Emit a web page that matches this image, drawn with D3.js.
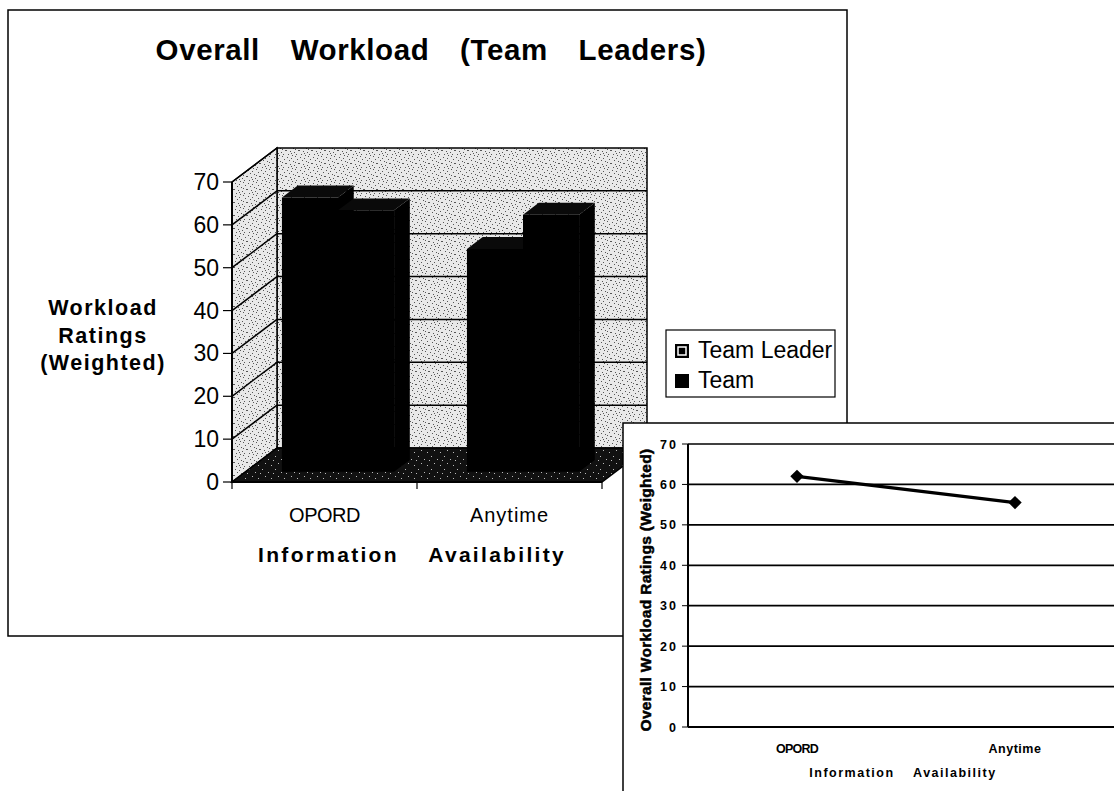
<!DOCTYPE html>
<html>
<head>
<meta charset="utf-8">
<script src="https://cdn.jsdelivr.net/npm/d3@7"></script>
<style>
body { margin: 0; background: #fff; }
text { font-family: "Liberation Sans", Arial, sans-serif; fill: #000; }
</style>
</head>
<body>
<div id="graphicContainer"></div>
<script>
// values
var categories = ["OPORD", "Anytime"]
var seriesNames = ["Team Leader", "Team"]
var teamLeader = [64, 52]
var team = [61, 60]
var overall = [62, 55.5]
var yTicks = [0, 10, 20, 30, 40, 50, 60, 70]
var chartTitle = "Overall Workload (Team Leaders)"
var xTitle = "Information Availability"
var yTitleLines = ["Workload", "Ratings", "(Weighted)"]
var insetYTitle = "Overall Workload Ratings (Weighted)"

var width = 1114, height = 791
var svg = d3.select("#graphicContainer").append("svg")
	.attr("width", width)
	.attr("height", height)

var defs = svg.append("defs")

// stipple texture for walls (fixed dot spots in a tile)
var wallDots = [[1,1],[5,2],[9,0],[3,4],[7,5],[11,3],[0,7],[4,8],[8,9],[12,7],[2,11],[6,12],[10,11],[9,6],[5,10]]
var wall = defs.append("pattern").attr("id", "wall")
	.attr("width", 13).attr("height", 13).attr("patternUnits", "userSpaceOnUse")
wall.append("rect").attr("width", 13).attr("height", 13).attr("fill", "#e8e8e8")
wall.selectAll("rect.d").data(wallDots).join("rect").attr("class", "d")
	.attr("x", d => d[0]).attr("y", d => d[1]).attr("width", 1).attr("height", 1).attr("fill", "#555")

var floorDots = [[2,1],[8,4],[5,8],[11,10],[0,5]]
var floor = defs.append("pattern").attr("id", "floor")
	.attr("width", 13).attr("height", 13).attr("patternUnits", "userSpaceOnUse")
floor.append("rect").attr("width", 13).attr("height", 13).attr("fill", "#111")
floor.selectAll("rect.d").data(floorDots).join("rect").attr("class", "d")
	.attr("x", d => d[0]).attr("y", d => d[1]).attr("width", 1).attr("height", 1).attr("fill", "#bbb")

// outer frame of the main chart
svg.append("rect")
	.attr("x", 8).attr("y", 10).attr("width", 839).attr("height", 626)
	.attr("fill", "#fff").attr("stroke", "#000").attr("stroke-width", 1.5)

svg.append("text")
	.attr("x", 431).attr("y", 60)
	.attr("text-anchor", "middle")
	.attr("font-size", 29.5).attr("font-weight", "bold")
	.attr("letter-spacing", 0.6).attr("word-spacing", 22)
	.text(chartTitle)

// ---- 3D column chart ----
var depth = {dx: 45, dy: -34}
var fFront = 0.3, fBack = 0.65

var y = d3.scaleLinear().domain([0, 70]).range([482, 182])
var x0 = d3.scaleBand().domain(categories).range([232, 602])
var x1 = d3.scaleBand().domain(seriesNames).range([0, x0.bandwidth()]).paddingOuter(0.65)

function pt(x, yy, f) { return [x + f * depth.dx, yy + f * depth.dy] }

var chart = svg.append("g")

// back wall
chart.append("rect")
	.attr("x", x0.range()[0] + depth.dx).attr("y", y(70) + depth.dy)
	.attr("width", x0.range()[1] - x0.range()[0]).attr("height", y(0) - y(70))
	.attr("fill", "url(#wall)").attr("stroke", "#000").attr("stroke-width", 1.5)

// side wall
chart.append("polygon")
	.attr("points", [pt(232, y(0), 0), pt(232, y(70), 0), pt(232, y(70), 1), pt(232, y(0), 1)].join(" "))
	.attr("fill", "url(#wall)").attr("stroke", "#000").attr("stroke-width", 1.5)

// floor
chart.append("polygon")
	.attr("points", [pt(232, y(0), 0), pt(602, y(0), 0), pt(602, y(0), 1), pt(232, y(0), 1)].join(" "))
	.attr("fill", "url(#floor)").attr("stroke", "#000").attr("stroke-width", 1.5)

// gridlines on walls
chart.selectAll("line.bg").data(yTicks.slice(1, -1)).join("line").attr("class", "bg")
	.attr("x1", 232 + depth.dx).attr("x2", 602 + depth.dx)
	.attr("y1", d => y(d) + depth.dy).attr("y2", d => y(d) + depth.dy)
	.attr("stroke", "#000").attr("stroke-width", 1.5)
chart.selectAll("line.sg").data(yTicks.slice(1)).join("line").attr("class", "sg")
	.attr("x1", 232).attr("x2", 232 + depth.dx)
	.attr("y1", d => y(d)).attr("y2", d => y(d) + depth.dy)
	.attr("stroke", "#000").attr("stroke-width", 1.5)

// bars
var barData = []
categories.forEach((c, i) => {
	barData.push({cat: c, s: seriesNames[0], v: teamLeader[i]})
	barData.push({cat: c, s: seriesNames[1], v: team[i]})
})

var bars = chart.selectAll("g.bar").data(barData).join("g").attr("class", "bar")
bars.each(function(d) {
	var g = d3.select(this)
	var xl = x0(d.cat) + x1(d.s), xr = xl + x1.bandwidth()
	var a = pt(xl, y(0), fFront), b = pt(xr, y(0), fFront)
	var c = pt(xr, y(d.v), fFront), e = pt(xl, y(d.v), fFront)
	var c2 = pt(xr, y(d.v), fBack), e2 = pt(xl, y(d.v), fBack), b2 = pt(xr, y(0), fBack)
	g.append("polygon").attr("points", [b, b2, c2, c].join(" ")).attr("fill", "#000")
	g.append("polygon").attr("points", [e, c, c2, e2].join(" ")).attr("fill", "#0a0a0a")
	g.append("polygon").attr("points", [a, b, c, e].join(" ")).attr("fill", "#000")
})

// front axis
chart.append("line")
	.attr("x1", 232).attr("x2", 232).attr("y1", y(0)).attr("y2", y(70))
	.attr("stroke", "#000").attr("stroke-width", 2)
chart.append("line")
	.attr("x1", 232).attr("x2", 602).attr("y1", y(0)).attr("y2", y(0))
	.attr("stroke", "#000").attr("stroke-width", 2)

chart.selectAll("line.yt").data(yTicks).join("line").attr("class", "yt")
	.attr("x1", 223).attr("x2", 232).attr("y1", d => y(d)).attr("y2", d => y(d))
	.attr("stroke", "#000").attr("stroke-width", 1.2)
chart.selectAll("text.yl").data(yTicks).join("text").attr("class", "yl")
	.attr("x", 219).attr("y", d => y(d) + 8)
	.attr("text-anchor", "end").attr("font-size", 23)
	.text(d => d)

var catEdges = [x0.range()[0]].concat(categories.map(c => x0(c) + x0.bandwidth()))
chart.selectAll("line.xt").data(catEdges).join("line").attr("class", "xt")
	.attr("x1", d => d).attr("x2", d => d).attr("y1", y(0)).attr("y2", y(0) + 7)
	.attr("stroke", "#000").attr("stroke-width", 1.2)

chart.selectAll("text.xl").data(categories).join("text").attr("class", "xl")
	.attr("x", d => x0(d) + x0.bandwidth() / 2).attr("y", 522)
	.attr("text-anchor", "middle").attr("font-size", 20)
	.attr("letter-spacing", (d, i) => i ? 1 : -0.5)
	.text(d => d)

chart.append("text")
	.attr("x", 412).attr("y", 562)
	.attr("text-anchor", "middle").attr("font-size", 21).attr("font-weight", "bold")
	.attr("letter-spacing", 2.3).attr("word-spacing", 22)
	.text(xTitle)

chart.selectAll("text.yt").data(yTitleLines).join("text").attr("class", "yt")
	.attr("x", 103).attr("y", (d, i) => 315 + i * 27.5)
	.attr("text-anchor", "middle").attr("font-size", 21.5).attr("font-weight", "bold")
	.attr("letter-spacing", 1.5)
	.text(d => d)

// legend
var legend = svg.append("g")
legend.append("rect")
	.attr("x", 666).attr("y", 330).attr("width", 169).attr("height", 67)
	.attr("fill", "#fff").attr("stroke", "#000").attr("stroke-width", 1.2)
var li = legend.selectAll("g").data(seriesNames).join("g")
	.attr("transform", (d, i) => `translate(675,${344 + i * 30})`)
li.append("rect").attr("width", 14).attr("height", 14).attr("fill", "#000")
li.filter((d, i) => i == 0).append("rect")
	.attr("x", 3).attr("y", 3).attr("width", 8).attr("height", 8)
	.attr("fill", "#000").attr("stroke", "#fff").attr("stroke-width", 1.5)
li.append("text").attr("x", 23).attr("y", 14).attr("font-size", 23).text(d => d)

// ---- inset line chart ----
var inset = svg.append("g")
inset.append("rect")
	.attr("x", 623).attr("y", 423).attr("width", 520).attr("height", 400)
	.attr("fill", "#fff").attr("stroke", "#000").attr("stroke-width", 1.5)

var iy = d3.scaleLinear().domain([0, 70]).range([727, 444])
var ix = d3.scaleBand().domain(categories).range([688, 1124])

inset.selectAll("line.g").data(yTicks).join("line").attr("class", "g")
	.attr("x1", 688).attr("x2", 1124).attr("y1", d => iy(d)).attr("y2", d => iy(d))
	.attr("stroke", "#000").attr("stroke-width", d => d ? 1.7 : 2)
inset.append("line")
	.attr("x1", 688).attr("x2", 688).attr("y1", iy(0)).attr("y2", iy(70))
	.attr("stroke", "#000").attr("stroke-width", 2)
inset.selectAll("line.t").data(yTicks).join("line").attr("class", "t")
	.attr("x1", 682).attr("x2", 688).attr("y1", d => iy(d)).attr("y2", d => iy(d))
	.attr("stroke", "#000").attr("stroke-width", 1)
inset.selectAll("text.yl").data(yTicks).join("text").attr("class", "yl")
	.attr("x", 678).attr("y", d => iy(d) + 4.5)
	.attr("text-anchor", "end").attr("font-size", 12.5).attr("font-weight", "bold")
	.attr("letter-spacing", 2)
	.text(d => d)

inset.append("text")
	.attr("transform", "translate(651,590) rotate(-90)")
	.attr("text-anchor", "middle").attr("font-size", 15.5).attr("font-weight", "bold")
	.attr("stroke", "#000").attr("stroke-width", 0.5)
	.attr("letter-spacing", 0.3)
	.text(insetYTitle)

var pts = categories.map((c, i) => ({cat: c, v: overall[i]}))
var line = d3.line().x(d => ix(d.cat) + ix.bandwidth() / 2).y(d => iy(d.v))
inset.append("path").datum(pts)
	.attr("d", line).attr("fill", "none").attr("stroke", "#000").attr("stroke-width", 3.2)
inset.selectAll("path.m").data(pts).join("path").attr("class", "m")
	.attr("d", d3.symbol(d3.symbolSquare, 90))
	.attr("transform", d => `translate(${ix(d.cat) + ix.bandwidth() / 2},${iy(d.v)}) rotate(45)`)
	.attr("fill", "#000")

inset.selectAll("text.xl").data(categories).join("text").attr("class", "xl")
	.attr("x", d => ix(d) + ix.bandwidth() / 2).attr("y", 753)
	.attr("text-anchor", "middle").attr("font-size", 12.5).attr("font-weight", "bold")
	.attr("letter-spacing", (d, i) => i ? 0.5 : -0.8)
	.text(d => d)
inset.append("text")
	.attr("x", 903).attr("y", 777)
	.attr("text-anchor", "middle").attr("font-size", 12.5).attr("font-weight", "bold")
	.attr("letter-spacing", 1.5).attr("word-spacing", 14)
	.text(xTitle)
</script>
</body>
</html>
